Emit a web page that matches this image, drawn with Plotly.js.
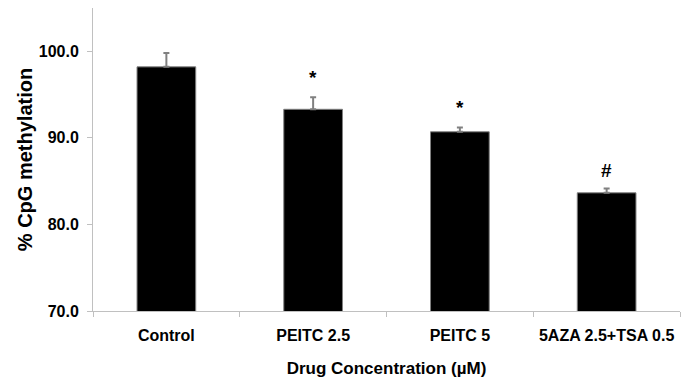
<!DOCTYPE html>
<html>
<head>
<meta charset="utf-8">
<script src="https://cdn.plot.ly/plotly-3.0.1.min.js"></script>
<style>html,body{margin:0;padding:0;background:#fff;}#chart{width:684px;height:381px;}</style>
</head>
<body>
<div id="chart"></div>
<script>
const categories = ["Control", "PEITC 2.5", "PEITC 5", "5AZA 2.5+TSA 0.5"];
const methylation = [98.2, 93.3, 90.7, 83.65];
const errors = [1.6, 1.4, 0.5, 0.5];
const errorsBelow = [0, 0, 0, 0];
const marks = ["", "*", "*", "#"];
const yTicks = [70, 80, 90, 100];
const yTickText = ["70.0", "80.0", "90.0", "100.0"];

const FONT = "'Liberation Sans', Arial, sans-serif";

const annotations = categories.map((c, i) => ({
  x: c, y: methylation[i] + errors[i], xref: "x", yref: "y",
  text: marks[i], showarrow: false, yanchor: "middle",
  yshift: marks[i] === "#" ? 18 : 20,
  font: {family: FONT, size: 19, color: "#000", weight: 700}
})).filter(a => a.text !== "");

const trace = {
  type: "bar", x: categories, y: methylation,
  marker: {color: "#000000", line: {color: "#808080", width: 1}},
  error_y: {type: "data", symmetric: false, array: errors, arrayminus: errorsBelow,
            visible: true, color: "#808080", thickness: 2, width: 3},
  hoverinfo: "none"
};

const layout = {
  width: 684, height: 381,
  margin: {l: 93, r: 4, t: 8, b: 70},
  paper_bgcolor: "#fff", plot_bgcolor: "#fff",
  showlegend: false, bargap: 0.6,
  xaxis: {
    type: "category", showline: true, linecolor: "#c0c0c0", linewidth: 1,
    ticks: "outside", tickson: "boundaries", ticklen: 5, tickcolor: "#c0c0c0",
    ticklabelstandoff: 10, tickangle: 0,
    showgrid: false, zeroline: false,
    tickfont: {family: FONT, size: 16, color: "#000", weight: 700},
    title: {text: "Drug Concentration (µM)", standoff: 18,
            font: {family: FONT, size: 17, color: "#000", weight: 700}}
  },
  yaxis: {
    range: [70, 105], showline: true, linecolor: "#c0c0c0", linewidth: 1,
    ticks: "outside", ticklen: 5, tickcolor: "#c0c0c0",
    tickvals: yTicks, ticktext: yTickText, ticklabelstandoff: 5,
    showgrid: false, zeroline: false,
    tickfont: {family: FONT, size: 16, color: "#000", weight: 700},
    title: {text: "% CpG methylation", standoff: 0,
            font: {family: FONT, size: 20, color: "#000", weight: 700}}
  },
  annotations: annotations
};

Plotly.newPlot("chart", [trace], layout, {displayModeBar: false, staticPlot: true});
</script>
</body>
</html>
